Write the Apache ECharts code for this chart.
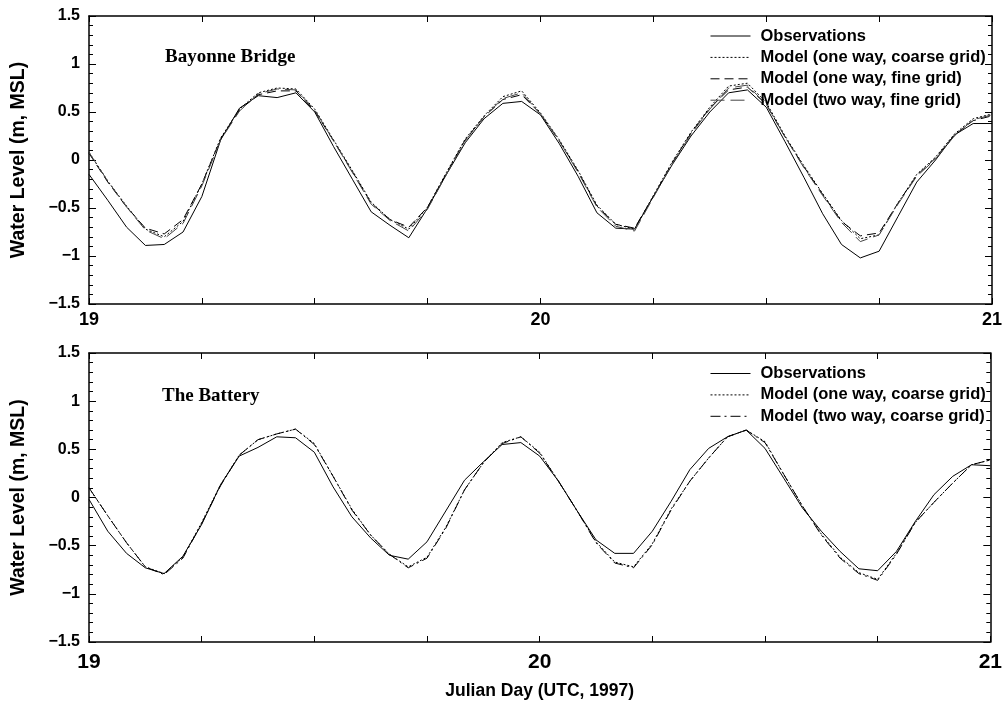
<!DOCTYPE html>
<html>
<head>
<meta charset="utf-8">
<script src="https://cdn.jsdelivr.net/npm/echarts@6/dist/echarts.min.js"></script>
<style>
  html, body { margin: 0; padding: 0; background: #fff; }
  #main { width: 1005px; height: 707px; }
</style>
</head>
<body>
<div id="main"></div>
<script>
// hourly samples, Julian day 19.0 .. 21.0
const julianDay = []
for (let h = 0; h <= 48; h++) julianDay.push(19 + h / 24)

// Bayonne Bridge
const bayObs = [-0.15, -0.42, -0.70, -0.89, -0.88, -0.75, -0.38, 0.21, 0.54, 0.67, 0.65, 0.70, 0.50, 0.14, -0.20, -0.54, -0.68, -0.81, -0.50, -0.15, 0.18, 0.43, 0.59, 0.61, 0.47, 0.17, -0.17, -0.55, -0.71, -0.72, -0.38, -0.05, 0.25, 0.50, 0.70, 0.73, 0.55, 0.19, -0.18, -0.56, -0.88, -1.02, -0.95, -0.59, -0.23, 0.00, 0.26, 0.38, 0.38]
const bayOneCoarse = [0.08, -0.22, -0.48, -0.72, -0.80, -0.64, -0.25, 0.23, 0.53, 0.70, 0.75, 0.74, 0.53, 0.21, -0.11, -0.44, -0.62, -0.72, -0.49, -0.13, 0.22, 0.46, 0.66, 0.72, 0.49, 0.21, -0.11, -0.47, -0.67, -0.72, -0.37, -0.02, 0.29, 0.55, 0.77, 0.80, 0.60, 0.25, -0.06, -0.35, -0.63, -0.82, -0.78, -0.45, -0.15, 0.03, 0.27, 0.43, 0.48]
const bayOneFine = [0.07, -0.23, -0.49, -0.71, -0.77, -0.62, -0.25, 0.22, 0.52, 0.68, 0.72, 0.72, 0.51, 0.20, -0.12, -0.45, -0.62, -0.70, -0.49, -0.14, 0.21, 0.45, 0.63, 0.68, 0.48, 0.20, -0.12, -0.48, -0.67, -0.71, -0.38, -0.03, 0.28, 0.54, 0.73, 0.76, 0.58, 0.24, -0.07, -0.36, -0.64, -0.79, -0.76, -0.45, -0.16, 0.02, 0.26, 0.41, 0.46]
const bayTwoFine = [0.08, -0.22, -0.49, -0.73, -0.82, -0.66, -0.27, 0.21, 0.51, 0.69, 0.74, 0.73, 0.52, 0.20, -0.13, -0.46, -0.63, -0.74, -0.51, -0.15, 0.20, 0.45, 0.64, 0.70, 0.48, 0.20, -0.13, -0.49, -0.69, -0.74, -0.39, -0.04, 0.27, 0.53, 0.75, 0.78, 0.58, 0.24, -0.08, -0.37, -0.65, -0.85, -0.78, -0.46, -0.17, 0.01, 0.25, 0.42, 0.47]

// The Battery
const batObs = [-0.02, -0.35, -0.58, -0.73, -0.79, -0.61, -0.28, 0.13, 0.43, 0.52, 0.63, 0.62, 0.47, 0.11, -0.20, -0.42, -0.60, -0.64, -0.46, -0.14, 0.18, 0.37, 0.55, 0.57, 0.43, 0.17, -0.14, -0.44, -0.58, -0.58, -0.35, -0.04, 0.29, 0.51, 0.63, 0.70, 0.51, 0.20, -0.11, -0.35, -0.56, -0.74, -0.76, -0.56, -0.25, 0.03, 0.22, 0.34, 0.33]
const batOneCoarse = [0.10, -0.19, -0.47, -0.72, -0.79, -0.62, -0.26, 0.13, 0.44, 0.60, 0.66, 0.71, 0.56, 0.22, -0.12, -0.39, -0.59, -0.72, -0.62, -0.31, 0.08, 0.36, 0.57, 0.63, 0.47, 0.17, -0.14, -0.46, -0.67, -0.72, -0.48, -0.12, 0.17, 0.41, 0.63, 0.70, 0.58, 0.24, -0.09, -0.38, -0.62, -0.78, -0.85, -0.58, -0.26, -0.05, 0.15, 0.34, 0.39]
const batTwoCoarse = [0.10, -0.19, -0.47, -0.72, -0.80, -0.63, -0.27, 0.12, 0.44, 0.60, 0.66, 0.71, 0.55, 0.22, -0.13, -0.39, -0.59, -0.73, -0.63, -0.32, 0.08, 0.36, 0.56, 0.63, 0.46, 0.17, -0.14, -0.47, -0.68, -0.73, -0.49, -0.13, 0.17, 0.41, 0.63, 0.70, 0.57, 0.24, -0.09, -0.39, -0.63, -0.79, -0.86, -0.59, -0.26, -0.05, 0.15, 0.34, 0.39]

const yTicks = { min: -1.5, max: 1.5, interval: 0.5 }
const font = "'Liberation Sans', Arial, sans-serif"
const serif = "'Liberation Serif', 'Times New Roman', serif"

let myChart = echarts.init(document.getElementById('main'), null, { renderer: 'canvas' })

function pairs(vals) {
  return vals.map((v, i) => [julianDay[i], v])
}

function line(name, vals, grid, type, color) {
  return {
    name: name,
    type: 'line',
    xAxisIndex: grid * 2,
    yAxisIndex: grid * 2,
    data: pairs(vals),
    symbol: 'none',
    lineStyle: { color: color || '#000', width: 1, type: type },
    itemStyle: { color: color || '#000' },
    z: 3
  }
}

function xAxes(grid, labelSize, margin) {
  const frame = { show: true, onZero: false, lineStyle: { color: '#000', width: 1.5 } }
  return [
    {
      gridIndex: grid, type: 'value', position: 'bottom',
      min: 19, max: 21, interval: 0.25,
      axisLine: frame,
      axisTick: { inside: true, length: 6, lineStyle: { color: '#000' } },
      splitLine: { show: false },
      axisLabel: {
        color: '#000', fontFamily: font, fontWeight: 'bold', fontSize: labelSize, margin: margin,
        formatter: (v) => (Math.abs(v - Math.round(v)) < 1e-6 ? String(Math.round(v)) : '')
      },
      name: grid === 1 ? 'Julian Day (UTC, 1997)' : '',
      nameLocation: 'middle', nameGap: 40,
      nameTextStyle: { color: '#000', fontFamily: font, fontWeight: 'bold', fontSize: 17.5 }
    },
    {
      gridIndex: grid, type: 'value', position: 'top',
      min: 19, max: 21, interval: 0.25,
      axisLine: frame,
      axisTick: { inside: true, length: 6, lineStyle: { color: '#000' } },
      splitLine: { show: false },
      axisLabel: { show: false }
    }
  ]
}

function yAxes(grid) {
  const frame = { show: true, onZero: false, lineStyle: { color: '#000', width: 1.5 } }
  const ticks = { inside: true, length: 7, lineStyle: { color: '#000' } }
  const minor = { show: true, splitNumber: 5, length: 4, lineStyle: { color: '#000' } }
  return [
    {
      gridIndex: grid, type: 'value', position: 'left',
      min: yTicks.min, max: yTicks.max, interval: yTicks.interval,
      axisLine: frame, axisTick: ticks, minorTick: minor,
      splitLine: { show: false }, minorSplitLine: { show: false },
      axisLabel: {
        color: '#000', fontFamily: font, fontWeight: 'bold', fontSize: 16, margin: 9,
        formatter: (v) => String(v).replace('-', '\u2212')
      },
      name: 'Water Level (m, MSL)',
      nameLocation: 'middle', nameRotate: 90, nameGap: 60,
      nameTextStyle: { color: '#000', fontFamily: font, fontWeight: 'bold', fontSize: 19.5 }
    },
    {
      gridIndex: grid, type: 'value', position: 'right',
      min: yTicks.min, max: yTicks.max, interval: yTicks.interval,
      axisLine: frame, axisTick: ticks, minorTick: minor,
      splitLine: { show: false }, minorSplitLine: { show: false },
      axisLabel: { show: false }
    }
  ]
}

function legend(names, top) {
  return {
    data: names,
    orient: 'vertical',
    left: 710,
    top: top,
    padding: 0,
    itemWidth: 40,
    itemHeight: 14,
    itemGap: 4.4,
    selectedMode: false,
    itemStyle: { opacity: 0 },
    lineStyle: { width: 1 },
    textStyle: { color: '#000', fontFamily: font, fontWeight: 'bold', fontSize: 16.5, lineHeight: 16, padding: [0, 0, 0, 5] }
  }
}

const topNames = ['Observations', 'Model (one way, coarse grid)', 'Model (one way, fine grid)', 'Model (two way, fine grid)']
const botNames = ['Observations', 'Model (one way, coarse grid)', 'Model (two way, coarse grid)']

myChart.setOption({
  animation: false,
  backgroundColor: '#fff',
  title: [
    { text: 'Bayonne Bridge', left: 165, top: 48, padding: 0,
      textStyle: { fontFamily: serif, fontWeight: 'bold', fontSize: 19, color: '#000' } },
    { text: 'The Battery', left: 162, top: 387, padding: 0,
      textStyle: { fontFamily: serif, fontWeight: 'bold', fontSize: 19, color: '#000' } }
  ],
  grid: [
    { left: 89, right: 12, top: 16, height: 288 },
    { left: 89, right: 12, top: 353, height: 289 }
  ],
  legend: [legend(topNames, 27.5), legend(botNames, 365)],
  xAxis: [...xAxes(0, 18, 7), ...xAxes(1, 21, 10)],
  yAxis: [...yAxes(0), ...yAxes(1)],
  series: [
    line(topNames[0], bayObs, 0, 'solid'),
    line(topNames[1], bayOneCoarse, 0, [2, 2]),
    line(topNames[2], bayOneFine, 0, [9, 5]),
    line(topNames[3], bayTwoFine, 0, [14, 6], '#444'),
    line(botNames[0], batObs, 1, 'solid'),
    line(botNames[1], batOneCoarse, 1, [2, 2]),
    line(botNames[2], batTwoCoarse, 1, [10, 4, 2, 4])
  ]
})
</script>
</body>
</html>
